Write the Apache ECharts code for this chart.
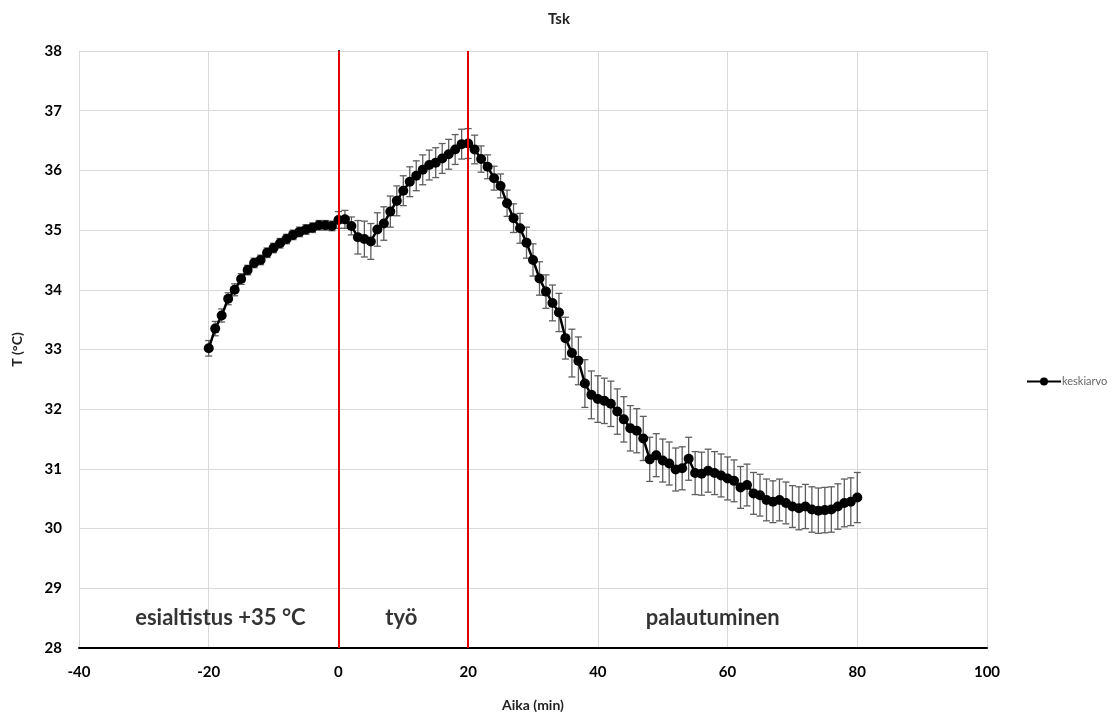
<!DOCTYPE html>
<html>
<head>
<meta charset="utf-8">
<script src="https://cdn.jsdelivr.net/npm/echarts@6/dist/echarts.min.js"></script>
<style>
  html, body { margin: 0; padding: 0; background: #fff; }
  #chart { width: 1118px; height: 712px; }
</style>
</head>
<body>
<div id="chart"></div>
<script>
// time (min)
const times = [
  -20, -19, -18, -17, -16, -15, -14, -13, -12, -11, -10, -9, -8, -7, -6, -5, -4, -3, -2, -1,
  0, 1, 2, 3, 4, 5, 6, 7, 8, 9, 10, 11, 12, 13, 14, 15, 16, 17, 18, 19,
  20, 21, 22, 23, 24, 25, 26, 27, 28, 29, 30, 31, 32, 33, 34, 35, 36, 37, 38, 39,
  40, 41, 42, 43, 44, 45, 46, 47, 48, 49, 50, 51, 52, 53, 54, 55, 56, 57, 58, 59,
  60, 61, 62, 63, 64, 65, 66, 67, 68, 69, 70, 71, 72, 73, 74, 75, 76, 77, 78, 79, 80
];

// keskiarvo (°C)
const means = [
  33.02, 33.35, 33.57, 33.85, 34.00, 34.18, 34.33, 34.45, 34.50, 34.62,
  34.70, 34.78, 34.85, 34.92, 34.97, 35.01, 35.04, 35.08, 35.08, 35.07,
  35.17, 35.18, 35.07, 34.88, 34.85, 34.81, 35.01, 35.11, 35.31, 35.49,
  35.66, 35.81, 35.91, 36.01, 36.09, 36.13, 36.20, 36.27, 36.35, 36.44,
  36.45, 36.35, 36.19, 36.06, 35.87, 35.74, 35.45, 35.20, 35.03, 34.79,
  34.50, 34.19, 33.97, 33.78, 33.62, 33.19, 32.94, 32.81, 32.43, 32.24,
  32.17, 32.14, 32.09, 31.96, 31.83, 31.68, 31.64, 31.51, 31.16, 31.23,
  31.14, 31.09, 30.99, 31.01, 31.17, 30.93, 30.92, 30.97, 30.93, 30.89,
  30.84, 30.80, 30.69, 30.73, 30.59, 30.56, 30.48, 30.45, 30.48, 30.43,
  30.37, 30.34, 30.37, 30.32, 30.30, 30.31, 30.32, 30.37, 30.43, 30.45, 30.52
];

// error bar half-length (°C)
const errors = [
  0.13, 0.12, 0.11, 0.10, 0.10, 0.09, 0.08, 0.08, 0.08, 0.08,
  0.08, 0.08, 0.08, 0.08, 0.08, 0.08, 0.08, 0.08, 0.08, 0.08,
  0.14, 0.15, 0.15, 0.28, 0.30, 0.30, 0.28, 0.28, 0.26, 0.25,
  0.25, 0.25, 0.25, 0.25, 0.25, 0.25, 0.25, 0.25, 0.25, 0.25,
  0.25, 0.24, 0.22, 0.20, 0.20, 0.20, 0.22, 0.24, 0.25, 0.26,
  0.27, 0.28, 0.28, 0.30, 0.32, 0.35, 0.40, 0.40, 0.40, 0.40,
  0.39, 0.38, 0.38, 0.38, 0.38, 0.38, 0.37, 0.37, 0.37, 0.36,
  0.36, 0.36, 0.36, 0.36, 0.36, 0.36, 0.36, 0.36, 0.36, 0.36,
  0.36, 0.35, 0.35, 0.35, 0.35, 0.35, 0.35, 0.35, 0.35, 0.35,
  0.35, 0.36, 0.37, 0.38, 0.38, 0.38, 0.38, 0.38, 0.40, 0.40, 0.42
];

// phase markers and labels
const phaseLines = [0, 20];
const phaseLabels = [
  { x: -18.2, y: 28.5, text: 'esialtistus +35 °C' },
  { x: 9.7, y: 28.5, text: 'työ' },
  { x: 57.7, y: 28.5, text: 'palautuminen' }
];

const lineData = times.map((t, i) => [t, means[i]]);
const errData = times.map((t, i) => [t, means[i] - errors[i], means[i] + errors[i]]);

const font = 'Lato, "Liberation Sans", sans-serif';

const chart = echarts.init(document.getElementById('chart'));
chart.setOption({
  animation: false,
  textStyle: { fontFamily: font },
  title: {
    text: 'Tsk',
    left: 'center',
    top: 7,
    textStyle: { fontFamily: font, fontSize: 15, fontWeight: 'bold', color: '#222' }
  },
  legend: {
    data: ['keskiarvo'],
    orient: 'vertical',
    left: 1021,
    top: 371,
    itemWidth: 34,
    itemHeight: 10,
    itemGap: 4,
    textStyle: { fontFamily: font, fontSize: 11, color: '#666', padding: [0, 0, 0, -4] }
  },
  grid: { left: 79, right: 131, top: 51, bottom: 64, outerBoundsMode: 'none' },
  xAxis: {
    type: 'value',
    min: -40,
    max: 100,
    interval: 20,
    name: 'Aika (min)',
    nameLocation: 'middle',
    nameGap: 50,
    nameTextStyle: { fontFamily: font, fontSize: 14, fontWeight: 'bold', color: '#222' },
    axisLine: { lineStyle: { color: '#000', width: 2 } },
    axisTick: { show: false },
    axisLabel: { fontFamily: font, fontSize: 15, fontWeight: 'bold', color: '#000', margin: 17 },
    splitLine: { show: true, lineStyle: { color: '#d9d9d9', width: 1 } }
  },
  yAxis: {
    type: 'value',
    min: 28,
    max: 38,
    interval: 1,
    name: 'T (°C)',
    nameLocation: 'middle',
    nameGap: 55,
    nameRotate: 90,
    nameTextStyle: { fontFamily: font, fontSize: 14, fontWeight: 'bold', color: '#222' },
    axisLine: { show: true, lineStyle: { color: '#000', width: 2 } },
    axisTick: { show: false },
    axisLabel: { fontFamily: font, fontSize: 15, fontWeight: 'bold', color: '#000', margin: 17 },
    splitLine: { show: true, lineStyle: { color: '#d9d9d9', width: 1 } }
  },
  series: [
    {
      name: 'virhe',
      type: 'custom',
      z: 2,
      silent: true,
      data: errData,
      renderItem: function (params, api) {
        const x = api.value(0);
        const top = api.coord([x, api.value(2)]);
        const bot = api.coord([x, api.value(1)]);
        const hw = 3.5;
        const style = { stroke: '#5e5e5e', lineWidth: 1.3 };
        return {
          type: 'group',
          children: [
            { type: 'line', shape: { x1: top[0], y1: top[1], x2: bot[0], y2: bot[1] }, style: style },
            { type: 'line', shape: { x1: top[0] - hw, y1: top[1], x2: top[0] + hw, y2: top[1] }, style: style },
            { type: 'line', shape: { x1: bot[0] - hw, y1: bot[1], x2: bot[0] + hw, y2: bot[1] }, style: style }
          ]
        };
      }
    },
    {
      name: 'keskiarvo',
      type: 'line',
      z: 3,
      data: lineData,
      symbol: 'circle',
      symbolSize: 10,
      itemStyle: { color: '#000' },
      lineStyle: { color: '#000', width: 2.5 },
      markLine: {
        silent: true,
        symbol: 'none',
        label: { show: false },
        lineStyle: { color: '#e00000', width: 2, type: 'solid' },
        data: phaseLines.map(v => ({ xAxis: v }))
      }
    },
    {
      name: 'vaiheet',
      type: 'scatter',
      z: 4,
      silent: true,
      symbolSize: 0,
      data: phaseLabels.map(p => ({ value: [p.x, p.y], name: p.text })),
      label: {
        show: true,
        position: 'inside',
        formatter: '{b}',
        fontFamily: font,
        fontSize: 22,
        fontWeight: 'bold',
        color: '#000'
      }
    }
  ]
});
</script>
</body>
</html>
